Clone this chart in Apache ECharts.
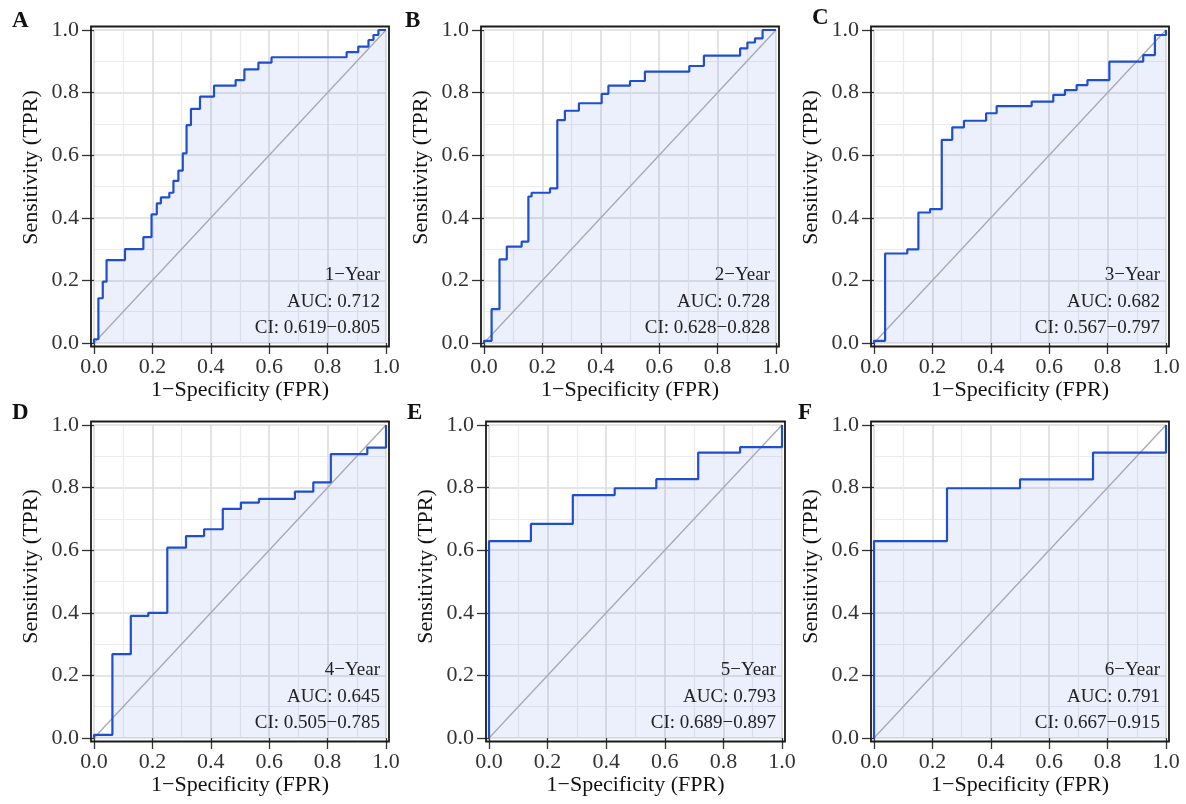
<!DOCTYPE html>
<html><head><meta charset="utf-8">
<script src="https://cdn.jsdelivr.net/npm/echarts@6/dist/echarts.min.js"></script>
<style>html,body{margin:0;padding:0;background:#fff;}#chart{width:1186px;height:804px;}</style>
</head><body><div id="chart"></div>
<script>
// ---------------- data ----------------
const panelLetters = ['A', 'B', 'C', 'D', 'E', 'F'];
const yearLabels = ['1−Year', '2−Year', '3−Year', '4−Year', '5−Year', '6−Year'];
const aucValues = ['0.712', '0.728', '0.682', '0.645', '0.793', '0.791'];
const ciLower = ['0.619', '0.628', '0.567', '0.505', '0.689', '0.667'];
const ciUpper = ['0.805', '0.828', '0.797', '0.785', '0.897', '0.915'];
const xAxisTitle = '1−Specificity (FPR)';
const yAxisTitle = 'Sensitivity (TPR)';

// ROC step points (FPR, TPR) – each point is the corner after a vertical jump
const fpr1 = [0, 0, 0.015, 0.03, 0.043, 0.106, 0.169, 0.197, 0.215, 0.229, 0.258, 0.272, 0.289, 0.304, 0.317, 0.332, 0.363, 0.411, 0.485, 0.515, 0.563, 0.608, 0.865, 0.905, 0.94, 0.957, 0.974, 1];
const tpr1 = [0, 0.012, 0.143, 0.196, 0.265, 0.30, 0.338, 0.411, 0.446, 0.465, 0.48, 0.518, 0.551, 0.606, 0.696, 0.748, 0.787, 0.822, 0.84, 0.874, 0.896, 0.913, 0.929, 0.947, 0.968, 0.984, 1, 1];

const fpr2 = [0, 0, 0.026, 0.053, 0.078, 0.129, 0.152, 0.163, 0.226, 0.251, 0.277, 0.325, 0.403, 0.426, 0.50, 0.551, 0.703, 0.753, 0.877, 0.902, 0.928, 0.954, 1];
const tpr2 = [0, 0.007, 0.108, 0.267, 0.308, 0.324, 0.468, 0.48, 0.494, 0.712, 0.742, 0.766, 0.796, 0.822, 0.837, 0.867, 0.885, 0.918, 0.941, 0.96, 0.973, 1, 1];

const fpr3 = [0, 0, 0.038, 0.114, 0.152, 0.192, 0.232, 0.268, 0.308, 0.384, 0.42, 0.54, 0.614, 0.654, 0.694, 0.731, 0.806, 0.922, 0.962, 1, 1];
const tpr3 = [0, 0.007, 0.286, 0.299, 0.417, 0.428, 0.649, 0.689, 0.71, 0.734, 0.757, 0.771, 0.793, 0.808, 0.824, 0.84, 0.899, 0.92, 0.984, 0.984, 1];

const fpr4 = [0, 0, 0.063, 0.126, 0.186, 0.251, 0.315, 0.377, 0.441, 0.503, 0.565, 0.688, 0.751, 0.811, 0.936, 1, 1];
const tpr4 = [0, 0.01, 0.268, 0.39, 0.40, 0.608, 0.645, 0.667, 0.732, 0.752, 0.764, 0.787, 0.817, 0.907, 0.928, 0.928, 1];

const fpr5 = [0, 0, 0.143, 0.286, 0.429, 0.571, 0.714, 0.857, 1, 1];
const tpr5 = [0, 0.629, 0.684, 0.776, 0.798, 0.827, 0.912, 0.929, 0.929, 1];

const fpr6 = [0, 0, 0.25, 0.5, 0.75, 1, 1];
const tpr6 = [0, 0.629, 0.798, 0.826, 0.912, 0.912, 1];

const diagonal = [[0, 0], [1, 1]];
const tickInterval = 0.2;

// ---------------- layout / style ----------------
const fprSets = [fpr1, fpr2, fpr3, fpr4, fpr5, fpr6];
const tprSets = [tpr1, tpr2, tpr3, tpr4, tpr5, tpr6];

const layout = [
  { left: 94,  top: 30,  width: 292, height: 313, letterX: 12,  letterY: 10,  yShift: 38 },
  { left: 484, top: 30,  width: 292, height: 313, letterX: 405, letterY: 10,  yShift: 38 },
  { left: 874, top: 30,  width: 292, height: 313, letterX: 812, letterY: 7,   yShift: 38 },
  { left: 94,  top: 425, width: 292, height: 313, letterX: 12,  letterY: 402, yShift: 30 },
  { left: 489, top: 425, width: 293, height: 313, letterX: 407, letterY: 402, yShift: 30 },
  { left: 874, top: 425, width: 292, height: 313, letterX: 798, letterY: 402, yShift: 30 }
];

const SERIF = "'Liberation Serif', 'Times New Roman', serif";
const grids = [], xAxes = [], yAxes = [], series = [], graphics = [];

layout.forEach((L, i) => {
  grids.push({ left: L.left, top: L.top, width: L.width, height: L.height, containLabel: false });

  const common = {
    type: 'value', gridIndex: i, min: 0, max: 1, interval: tickInterval,
    axisLine: { show: false },
    axisTick: { show: true, length: 11, lineStyle: { color: '#333', width: 1.3 } },
    axisLabel: { fontFamily: SERIF, fontSize: 22, color: '#333', formatter: v => v.toFixed(1) },
    splitLine: { show: true, lineStyle: { color: '#dcdcdc', width: 1.6 } },
    minorTick: { show: false, splitNumber: 2 },
    minorSplitLine: { show: true, lineStyle: { color: '#ebebeb', width: 1.2 } },
    nameLocation: 'middle'
  };
  xAxes.push(Object.assign({}, common, {
    axisLabel: Object.assign({}, common.axisLabel, { margin: 13 }),
    name: xAxisTitle, nameGap: 36,
    nameTextStyle: { fontFamily: SERIF, fontSize: 22, color: '#111' }
  }));
  yAxes.push(Object.assign({}, common, {
    axisTick: { show: true, length: 12, lineStyle: { color: '#333', width: 1.3 } },
    axisLabel: Object.assign({}, common.axisLabel, { margin: 15 }),
    name: yAxisTitle, nameGap: 52,
    nameTextStyle: { fontFamily: SERIF, fontSize: 22, color: '#111', padding: [0, 0, 0, L.yShift] }
  }));

  series.push({
    type: 'line', xAxisIndex: i, yAxisIndex: i, data: diagonal, symbol: 'none',
    lineStyle: { color: '#a8a8b2', width: 1.3 }, silent: true, animation: false, clip: false
  });
  series.push({
    type: 'line', xAxisIndex: i, yAxisIndex: i, step: 'end',
    data: fprSets[i].map((x, j) => [x, tprSets[i][j]]),
    symbol: 'none', clip: false,
    lineStyle: { color: '#1f4fcf', width: 2.2 },
    areaStyle: { color: 'rgba(72,100,228,0.15)' },
    animation: false
  });

  // panel border
  graphics.push({
    type: 'rect', silent: true, z: 10,
    shape: { x: L.left - 3, y: L.top - 3.5, width: L.width + 6, height: L.height + 7 },
    style: { fill: 'none', stroke: '#1a1a1a', lineWidth: 1.8 }
  });
  // panel letter
  graphics.push({
    type: 'text', x: L.letterX, y: L.letterY, z: 10,
    style: { text: panelLetters[i], font: "bold 23px " + SERIF, fill: '#111',
             textAlign: 'left', align: 'left', textVerticalAlign: 'top', verticalAlign: 'top' }
  });
  // annotations
  const lines = [yearLabels[i], 'AUC: ' + aucValues[i], 'CI: ' + ciLower[i] + '−' + ciUpper[i]];
  const offs = [68, 41, 15];
  lines.forEach((t, k) => {
    graphics.push({
      type: 'text', x: L.left + L.width - 6, y: L.top + L.height - offs[k], z: 10,
      style: { text: t, font: "19px " + SERIF, fill: '#222',
               textAlign: 'right', align: 'right', textVerticalAlign: 'middle', verticalAlign: 'middle' }
    });
  });
});

const chart = echarts.init(document.getElementById('chart'), null, { renderer: 'canvas' });
chart.setOption({
  backgroundColor: '#ffffff',
  animation: false,
  grid: grids, xAxis: xAxes, yAxis: yAxes, series: series, graphic: graphics
});
</script></body></html>
